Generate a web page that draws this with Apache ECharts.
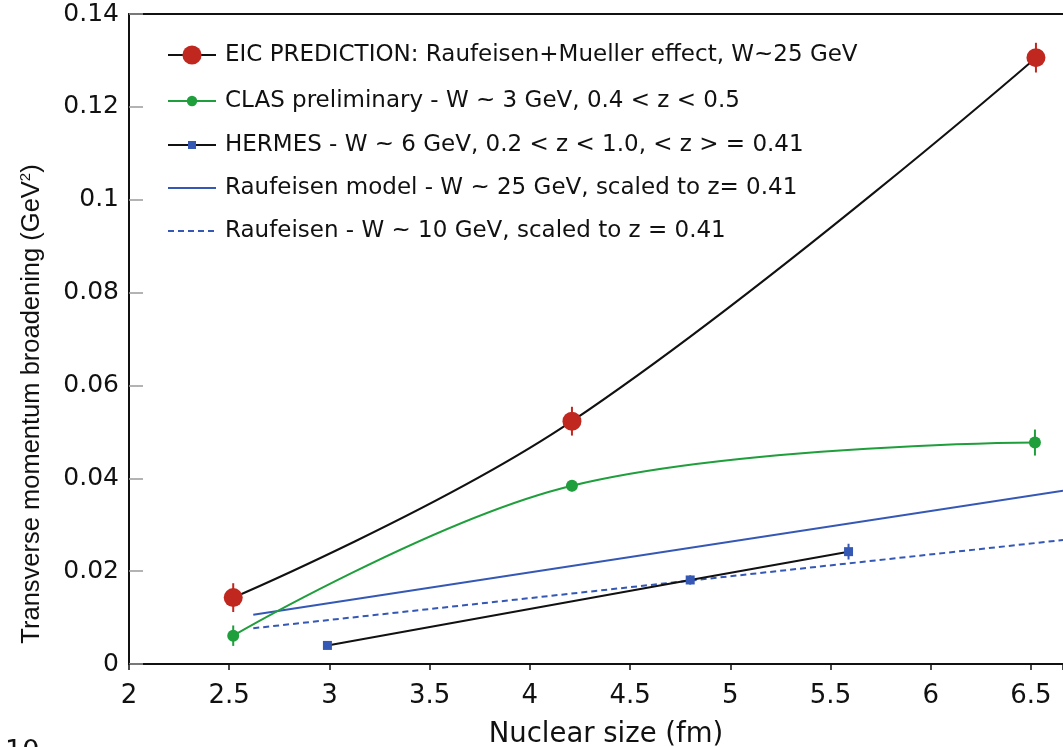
<!DOCTYPE html>
<html>
<head>
<meta charset="utf-8">
<script src="https://cdn.jsdelivr.net/npm/echarts@6/dist/echarts.min.js"></script>
<style>
html,body{margin:0;padding:0;background:#fff;}
#chart{width:1063px;height:747px;}
</style>
</head>
<body>
<div id="chart"></div>
<script>
// ---- data ----
const xTicks = [2, 2.5, 3, 3.5, 4, 4.5, 5, 5.5, 6, 6.5];
const yTicks = [0, 0.02, 0.04, 0.06, 0.08, 0.1, 0.12, 0.14];

const eicName = 'EIC PREDICTION: Raufeisen+Mueller effect, W~25 GeV';
const eicX = [2.52, 4.21, 6.525];
const eicY = [0.0143, 0.0523, 0.1306];
const eicErr = [0.0031, 0.0031, 0.0032];

const clasName = 'CLAS preliminary - W ~ 3 GeV, 0.4 < z < 0.5';
const clasX = [2.52, 4.21, 6.52];
const clasY = [0.0061, 0.0384, 0.0477];
const clasErr = [0.0022, 0.0012, 0.0028];

const hermesName = 'HERMES - W ~ 6 GeV, 0.2 < z < 1.0, < z > = 0.41';
const hermesX = [2.99, 4.80, 5.59];
const hermesY = [0.0040, 0.0181, 0.0242];
const hermesErr = [0.0008, 0.0010, 0.0017];

const model25Name = 'Raufeisen model - W ~ 25 GeV, scaled to z= 0.41';
const model25X = [2.62, 6.66];
const model25Y = [0.0106, 0.0373];

const model10Name = 'Raufeisen - W ~ 10 GeV, scaled to z = 0.41';
const model10X = [2.62, 6.66];
const model10Y = [0.0077, 0.0267];

// ---- helpers ----
const pairs = (xs, ys) => xs.map((x, i) => [x, ys[i]]);
const errData = (xs, ys, es) => xs.map((x, i) => [x, ys[i] - es[i], ys[i] + es[i]]);

const RED = '#c0281f', GREEN = '#1f9e3c', BLUE = '#3558b5', BLACK = '#111111';

function errSeries(xs, ys, es, color, z) {
  return {
    type: 'custom',
    z: z,
    silent: true,
    data: errData(xs, ys, es),
    encode: { x: 0, y: [1, 2] },
    renderItem: function (params, api) {
      const lo = api.coord([api.value(0), api.value(1)]);
      const hi = api.coord([api.value(0), api.value(2)]);
      return {
        type: 'line',
        shape: { x1: lo[0], y1: lo[1], x2: hi[0], y2: hi[1] },
        style: { stroke: color, lineWidth: 2 }
      };
    }
  };
}

const horizFont = 'DejaVu Sans';
function legendRow(name, centerY, itemHeight, hideSymbol) {
  const item = { name: name };
  if (hideSymbol) item.itemStyle = { opacity: 0 };
  return {
    left: 167, top: centerY - 14, orient: 'vertical', padding: 0,
    itemWidth: 48, itemHeight: itemHeight,
    data: [item],
    textStyle: { fontFamily: horizFont, fontSize: 23, lineHeight: 28, color: '#111', padding: [0, 0, 0, 4] }
  };
}

const chart = echarts.init(document.getElementById('chart'), null, { renderer: 'canvas' });
const option = {
  animation: false,
  backgroundColor: '#ffffff',
  title: {
    text: '10', left: 0, top: 733,
    textStyle: { fontFamily: horizFont, fontSize: 27, fontWeight: 'normal', color: '#111' }
  },
  grid: { left: 129, right: 0, top: 14, bottom: 83, containLabel: false, outerBoundsMode: 'none' },
  legend: [
    legendRow(eicName, 55, 24, false),
    legendRow(clasName, 101, 13, false),
    legendRow(hermesName, 145, 10, false),
    legendRow(model25Name, 188, 10, true),
    legendRow(model10Name, 231, 10, true)
  ],
  xAxis: [{
    type: 'value', min: 2, max: 6.66, interval: 0.5,
    name: 'Nuclear size (fm)', nameLocation: 'middle', nameGap: 57,
    nameTextStyle: { fontFamily: horizFont, fontSize: 27.5, color: '#111', padding: [0, 0, 0, 20] },
    axisLine: { show: true, onZero: false, lineStyle: { color: '#111', width: 2 } },
    axisTick: { show: true, inside: false, length: 6, lineStyle: { color: '#111', width: 1.5 } },
    axisLabel: {
      margin: 19, fontFamily: horizFont, fontSize: 26, color: '#111',
      formatter: function (v) {
        const k = xTicks.findIndex(t => Math.abs(t - v) < 1e-6);
        return k >= 0 ? String(xTicks[k]) : '';
      }
    },
    splitLine: { show: false }
  }, {
    type: 'value', position: 'top', min: 2, max: 6.66,
    axisLine: { show: true, onZero: false, lineStyle: { color: '#111', width: 2 } },
    axisTick: { show: false }, axisLabel: { show: false }, splitLine: { show: false }
  }],
  yAxis: {
    type: 'value', min: 0, max: 0.14, interval: 0.02,
    name: 'Transverse momentum broadening (GeV{sup|2})',
    nameLocation: 'middle', nameGap: 84, nameRotate: 90,
    nameTextStyle: {
      fontFamily: 'Liberation Sans', fontSize: 25.5, color: '#111',
      padding: [0, 130, 0, 0],
      rich: { sup: { fontFamily: 'Liberation Sans', fontSize: 15, verticalAlign: 'top', padding: [0, 0, 12, 0] } }
    },
    axisLine: { show: true, onZero: false, lineStyle: { color: '#111', width: 2 } },
    axisTick: { show: true, inside: true, length: 14, lineStyle: { color: '#9a9a9a', width: 1.5 } },
    axisLabel: {
      margin: 10, fontFamily: horizFont, fontSize: 25, color: '#111',
      formatter: function (v) {
        const k = yTicks.findIndex(t => Math.abs(t - v) < 1e-9);
        return k >= 0 ? String(yTicks[k]) : '';
      }
    },
    splitLine: { show: false }
  },
  series: [
    {
      name: model10Name, type: 'line', data: pairs(model10X, model10Y),
      showSymbol: false, symbol: 'none', z: 2,
      lineStyle: { color: BLUE, width: 2, type: [6, 4] }, itemStyle: { color: BLUE }
    },
    {
      name: model25Name, type: 'line', data: pairs(model25X, model25Y),
      showSymbol: false, symbol: 'none', z: 2,
      lineStyle: { color: BLUE, width: 2 }, itemStyle: { color: BLUE }
    },
    errSeries(hermesX, hermesY, hermesErr, BLUE, 3),
    {
      name: hermesName, type: 'line', data: pairs(hermesX, hermesY),
      symbol: 'rect', symbolSize: 9, z: 4,
      lineStyle: { color: BLACK, width: 2 }, itemStyle: { color: BLUE }
    },
    errSeries(clasX, clasY, clasErr, GREEN, 5),
    {
      name: clasName, type: 'line', data: pairs(clasX, clasY), smooth: 0.38,
      symbol: 'circle', symbolSize: 12, z: 6,
      lineStyle: { color: GREEN, width: 2 }, itemStyle: { color: GREEN }
    },
    errSeries(eicX, eicY, eicErr, RED, 7),
    {
      name: eicName, type: 'line', data: pairs(eicX, eicY), smooth: 0.4,
      symbol: 'circle', symbolSize: 19, z: 8,
      lineStyle: { color: BLACK, width: 2 }, itemStyle: { color: RED }
    }
  ]
};
chart.setOption(option);
</script>
</body>
</html>
